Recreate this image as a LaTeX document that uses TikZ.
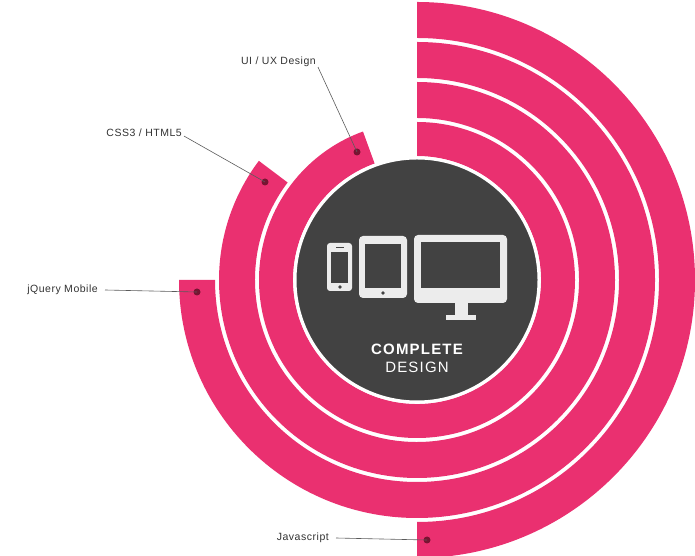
\documentclass[tikz,border=0pt]{standalone}
\usepackage{fontspec}
\setmainfont{Liberation Sans}
\newfontfamily\spaced[LetterSpace=8]{Liberation Sans}
\newfontfamily\lspaced[LetterSpace=5]{Liberation Sans}
\definecolor{pinkring}{RGB}{234,48,112}
\definecolor{darkdisc}{RGB}{66,66,66}
\definecolor{dotred}{RGB}{120,20,50}
\definecolor{icon}{RGB}{236,236,236}
\definecolor{labelgray}{RGB}{50,50,50}
\tikzset{
  ring/.style={fill=pinkring},
  ldot/.style={circle,fill=dotred,inner sep=0pt,minimum size=7pt},
  lbl/.style={font=\lspaced\fontsize{10.5}{12}\selectfont,text=labelgray,inner sep=2pt},
  leader/.style={draw=labelgray!80,line width=0.6pt},
  iconfill/.style={fill=icon},
}
\newcommand{\ringsector}[3]{% inner, outer, end angle
  \fill[ring] (417pt,276pt) ++(90:#2pt) arc[start angle=90,end angle=#3,radius=#2pt]
    -- ++(#3:-#2pt+#1pt) arc[start angle=#3,end angle=90,radius=#1pt] -- cycle;}
\begin{document}
\begin{tikzpicture}[x=1pt,y=1pt]
\useasboundingbox (0,0) rectangle (695,556);
\coordinate (c) at (417,276);
\ringsector{242}{278}{-90}
\ringsector{202}{238}{-180}
\ringsector{162}{198}{-217}
\ringsector{124}{158}{-250}
\node[circle,fill=darkdisc,draw=white,line width=3pt,minimum size=244pt] (disc) at (c) {};
% phone
\fill[icon,rounded corners=3] (327,265) rectangle (352,313);
\fill[darkdisc] (331,273) rectangle (348,304);
\fill[darkdisc] (336,307.5) rectangle (344,309);
\fill[darkdisc] (340,269) circle (1.8);
% tablet
\fill[icon,rounded corners=4] (359,258) rectangle (407,320);
\fill[darkdisc] (365,268) rectangle (401,312);
\fill[darkdisc] (383,263) circle (1.8);
% monitor
\fill[icon,rounded corners=4] (414,253) rectangle (507,321);
\fill[darkdisc] (421,268) rectangle (500,314);
\fill[icon] (455,240) rectangle (468,254);
\fill[icon] (446,236) rectangle (476,241);
\node[font=\spaced\bfseries\fontsize{15}{16}\selectfont,text=white] (t1) at (417,207) {COMPLETE};
\node[font=\spaced\fontsize{15}{16}\selectfont,text=white] (t2) at (417,189) {DESIGN};
% dots and labels
\node[ldot] (d4) at (357,404) {};
\node[ldot] (d3) at (265,374) {};
\node[ldot] (d2) at (197,264) {};
\node[ldot] (d1) at (427,16) {};
\node[lbl,anchor=east] (l4) at (318,494) {UI / UX Design};
\node[lbl,anchor=east] (l3) at (184,423) {CSS3 / HTML5};
\node[lbl,anchor=east] (l2) at (100,266) {jQuery Mobile};
\node[lbl,anchor=east] (l1) at (331,18) {Javascript};
\draw[leader] (l4.south east) ++(0,2) -- (d4.center);
\draw[leader] (l3.south east) ++(0,3) -- (d3.center);
\draw[leader] (l2.east) ++(5,0) -- (d2.center);
\draw[leader] (l1.east) ++(5,0) -- (d1.center);
\end{tikzpicture}
\end{document}
